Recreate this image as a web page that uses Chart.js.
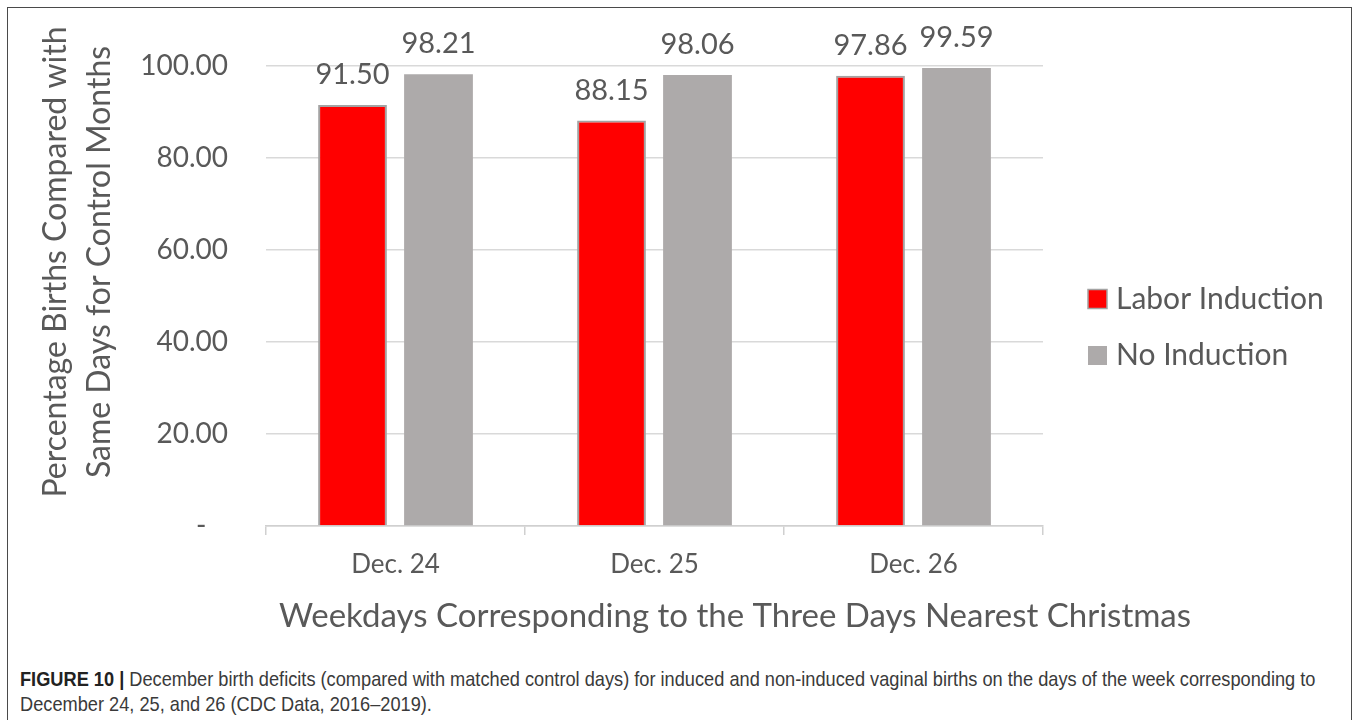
<!DOCTYPE html>
<html>
<head>
<meta charset="utf-8">
<script src="https://cdn.jsdelivr.net/npm/chart.js@4.4.0/dist/chart.umd.min.js"></script>
<style>
  html, body { margin: 0; padding: 0; background: #fff; }
  body { width: 1358px; height: 720px; position: relative; overflow: hidden; }
  .frame {
    position: absolute; left: 7px; top: 7px; width: 1345px; height: 740px;
    border: 1.5px solid #4a4a4a; box-sizing: border-box;
  }
  .chart-container { position: absolute; left: 0; top: 0; width: 1358px; height: 640px; }
  .caption {
    position: absolute; left: 20px; top: 666px; white-space: nowrap;
    font-family: "Liberation Sans", Arial, sans-serif;
    font-size: 21px; line-height: 25px; color: #3a3a3a;
    transform: scaleX(0.867); transform-origin: 0 0;
  }
  .caption b { color: #222; }
</style>
</head>
<body>
<div class="frame"></div>
<div class="chart-container">
  <canvas id="chart" width="1358" height="640"></canvas>
</div>
<div class="caption"><b>FIGURE 10 |</b> December birth deficits (compared with matched control days) for induced and non-induced vaginal births on the days of the week corresponding to<br>December 24, 25, and 26 (CDC Data, 2016–2019).</div>

<script>
const days = ['Dec. 24', 'Dec. 25', 'Dec. 26'];
const laborInduction = [91.50, 88.15, 97.86];
const noInduction = [98.21, 98.06, 99.59];
const yTicks = [0, 20, 40, 60, 80, 100];

const FONT = 'Lato, Carlito, Calibri, sans-serif';
const TEXT = '#595959';

// value labels above every bar
const barValues = {
  id: 'barValues',
  afterDatasetsDraw(chart) {
    const ctx = chart.ctx;
    ctx.save();
    ctx.font = '29px ' + FONT;
    ctx.fillStyle = TEXT;
    ctx.textAlign = 'center';
    ctx.textBaseline = 'alphabetic';
    chart.data.datasets.forEach((ds, i) => {
      chart.getDatasetMeta(i).data.forEach((bar, j) => {
        ctx.fillText(ds.data[j].toFixed(2), bar.x, bar.y - 21);
      });
    });
    ctx.restore();
  }
};

// axis titles and legend
const chartText = {
  id: 'chartText',
  afterDraw(chart) {
    const ctx = chart.ctx;
    ctx.save();
    ctx.fillStyle = TEXT;
    ctx.textAlign = 'center';
    ctx.textBaseline = 'middle';

    ctx.font = '32px ' + FONT;
    ctx.save();
    ctx.translate(56, 262);
    ctx.rotate(-Math.PI / 2);
    ctx.fillText('Percentage Births Compared with', 0, 0);
    ctx.fillText('Same Days for Control Months', 0, 44);
    ctx.restore();

    ctx.font = '33px ' + FONT;
    ctx.fillText('Weekdays Corresponding to the Three Days Nearest Christmas', 735, 616);

    ctx.font = '30px ' + FONT;
    ctx.textAlign = 'left';
    chart.data.datasets.forEach((ds, i) => {
      const y = 299 + i * 56.5;
      ctx.fillStyle = ds.backgroundColor;
      ctx.fillRect(1088, y - 9.5, 19, 19);
      if (ds.borderColor !== ds.backgroundColor) {
        ctx.strokeStyle = ds.borderColor;
        ctx.lineWidth = 1.5;
        ctx.strokeRect(1088, y - 9.5, 19, 19);
      }
      ctx.fillStyle = TEXT;
      ctx.fillText(ds.label, 1116, y);
    });
    ctx.restore();
  }
};

new Chart(document.getElementById('chart'), {
  type: 'bar',
  data: {
    labels: days,
    datasets: [
      {
        label: 'Labor Induction',
        data: laborInduction,
        backgroundColor: '#FF0000',
        borderColor: '#A3A3A3',
        borderWidth: 2,
      },
      {
        label: 'No Induction',
        data: noInduction,
        backgroundColor: '#ADAAAA',
        borderColor: '#ADAAAA',
        borderWidth: 0,
      },
    ],
  },
  options: {
    responsive: false,
    animation: false,
    categoryPercentage: 0.664,
    barPercentage: 0.8,
    layout: { padding: { left: 0, top: 66, right: 315, bottom: 0 } },
    plugins: {
      legend: { display: false },
      tooltip: { enabled: false },
    },
    scales: {
      x: {
        afterFit(scale) { scale.height = 114; },
        border: { color: '#D0D0D0', width: 1.5 },
        grid: { drawOnChartArea: false, drawTicks: true, tickLength: 9, color: '#D0D0D0', lineWidth: 1.5 },
        ticks: { font: { family: FONT, size: 26 }, color: TEXT, padding: 14 },
      },
      y: {
        min: 0,
        max: 100,
        afterFit(scale) { scale.width = 266; },
        afterBuildTicks(scale) { scale.ticks = yTicks.map(v => ({ value: v })); },
        border: { display: false },
        grid: { color: '#D9D9D9', lineWidth: 1.5, drawTicks: false },
        ticks: {
          font: { family: FONT, size: 28 },
          color: TEXT,
          padding: 38,
          callback: v => (v === 0 ? '-   ' : v.toFixed(2)),
        },
      },
    },
  },
  plugins: [barValues, chartText],
});
</script>
</body>
</html>
